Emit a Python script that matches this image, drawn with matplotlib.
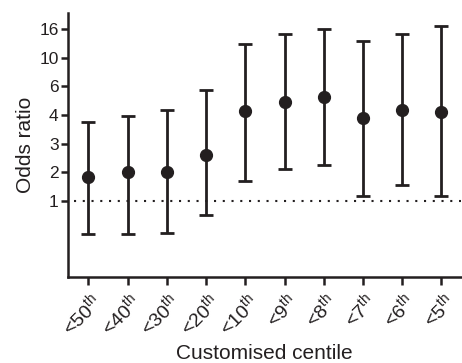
import matplotlib
matplotlib.use("Agg")
import matplotlib.pyplot as plt
import numpy as np

# datos
centiles = ["50", "40", "30", "20", "10", "9", "8", "7", "6", "5"]
odds = [1.85, 2.0, 2.0, 2.6, 4.25, 4.9, 5.25, 3.9, 4.35, 4.2]
ic_bajo = [0.46, 0.46, 0.47, 0.75, 1.71, 2.13, 2.26, 1.18, 1.56, 1.18]
ic_alto = [3.77, 3.95, 4.35, 5.75, 12.8, 14.9, 16.0, 13.6, 15.0, 17.7]

marcas_y = [1, 2, 3, 4, 6, 10, 16]

# escala del eje y: las marcas quedan igualmente espaciadas
valores_escala = [0.125, 0.25, 0.5, 1, 2, 3, 4, 6, 10, 16, 32]
posiciones_escala = [-3, -2, -1, 0, 1, 2, 3, 4, 5, 6, 7]


def directa(v):
    return np.interp(v, valores_escala, posiciones_escala)


def inversa(p):
    return np.interp(p, posiciones_escala, valores_escala)


negro = "#231f20"
plt.rcParams["font.family"] = ["Liberation Sans", "DejaVu Sans"]
plt.rcParams["mathtext.default"] = "regular"

fig = plt.figure(figsize=(4.62, 3.63), dpi=100)
ax = fig.add_axes([0.148, 0.237, 0.85, 0.727])
ax.set_yscale("function", functions=(directa, inversa))

x = np.arange(len(centiles))
odds_arr = np.array(odds)
err = [odds_arr - np.array(ic_bajo), np.array(ic_alto) - odds_arr]
ax.errorbar(x, odds, yerr=err, fmt="o", color=negro, ecolor=negro,
            markersize=8.5, elinewidth=2, capsize=5, capthick=2, zorder=3)

ax.axhline(1, color=negro, lw=1.5, linestyle=(0, (1, 3.2)), xmin=0.015)

ax.set_xlim(-0.51, 9.5)
ax.set_ylim(0.168, 25)
ax.set_yticks(marcas_y)
ax.set_yticklabels([str(m) for m in marcas_y])
ax.minorticks_off()

ax.set_xticks(x)
ax.set_xticklabels(["<" + c + r"$^{th}$" for c in centiles], rotation=45,
                   ha="right", rotation_mode="anchor")

for lado in ["top", "right"]:
    ax.spines[lado].set_visible(False)
for lado in ["left", "bottom"]:
    ax.spines[lado].set_linewidth(1.8)
    ax.spines[lado].set_color(negro)

ax.tick_params(axis="y", length=5, width=1.8, color=negro, labelsize=12.5,
               labelcolor=negro, pad=2)
ax.tick_params(axis="x", length=6, width=1.8, color=negro, labelsize=14,
               labelcolor=negro, pad=3)

ax.set_ylabel("Odds ratio", fontsize=15, color=negro, labelpad=3)
ax.set_xlabel("Customised centile", fontsize=15, color=negro, labelpad=4)

fig.savefig("out.png", dpi=100)
